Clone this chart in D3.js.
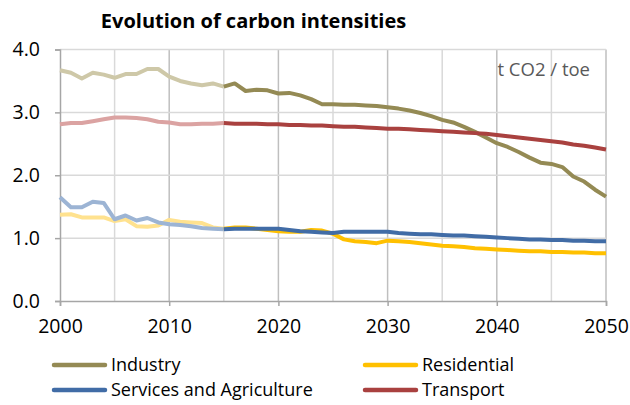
<!DOCTYPE html>
<html><head><meta charset="utf-8">
<script src="https://cdn.jsdelivr.net/npm/d3@7"></script>
<style>
html,body{margin:0;padding:0;background:#fff;}
svg text{font-family:"Open Sans",sans-serif;}
</style></head>
<body><svg id="c" width="630" height="405"></svg>
<script>
const histYears = d3.range(2000, 2016);
const projYears = d3.range(2015, 2051);
const industryHist = [3.67,3.63,3.54,3.63,3.60,3.55,3.61,3.61,3.69,3.69,3.57,3.50,3.46,3.43,3.46,3.41];
const residentialHist = [1.37,1.38,1.33,1.33,1.33,1.27,1.30,1.19,1.18,1.20,1.29,1.26,1.25,1.24,1.17,1.15];
const servicesHist = [1.65,1.49,1.49,1.58,1.56,1.30,1.36,1.28,1.32,1.25,1.22,1.21,1.19,1.16,1.15,1.14];
const transportHist = [2.81,2.83,2.83,2.86,2.89,2.92,2.92,2.91,2.89,2.85,2.84,2.81,2.81,2.82,2.82,2.83];
const industryProj = [3.41,3.46,3.34,3.36,3.35,3.30,3.31,3.27,3.21,3.13,3.13,3.12,3.12,3.11,3.10,3.08,3.06,3.03,2.99,2.94,2.88,2.84,2.77,2.69,2.60,2.51,2.45,2.37,2.28,2.20,2.18,2.13,1.98,1.90,1.77,1.66];
const residentialProj = [1.15,1.17,1.17,1.15,1.13,1.11,1.10,1.10,1.13,1.12,1.07,0.98,0.95,0.94,0.92,0.96,0.95,0.94,0.92,0.90,0.88,0.87,0.86,0.84,0.83,0.82,0.81,0.80,0.79,0.79,0.78,0.78,0.77,0.77,0.76,0.76];
const servicesProj = [1.14,1.15,1.15,1.15,1.15,1.15,1.13,1.11,1.10,1.09,1.08,1.10,1.10,1.10,1.10,1.10,1.08,1.07,1.06,1.06,1.05,1.04,1.04,1.03,1.02,1.01,1.00,0.99,0.98,0.98,0.97,0.97,0.96,0.96,0.95,0.95];
const transportProj = [2.83,2.82,2.82,2.82,2.81,2.81,2.80,2.80,2.79,2.79,2.78,2.77,2.77,2.76,2.75,2.74,2.74,2.73,2.72,2.71,2.70,2.69,2.68,2.67,2.66,2.64,2.62,2.60,2.58,2.56,2.54,2.52,2.49,2.47,2.44,2.41];
const seriesNames = ["Industry","Residential","Services and Agriculture","Transport"];
const xTicks = [2000,2010,2020,2030,2040,2050];
const yTicks = [0,1,2,3,4];
const title = "Evolution of carbon intensities";
const unitLabel = "t CO2 / toe";

const darkColors = ["#948A54","#FFC000","#416CA6","#A9413F"];
const lightColors = ["#CEC8A8","#FFE28F","#9CB4D4","#DBA3A2"];
const hist = [industryHist,residentialHist,servicesHist,transportHist];
const proj = [industryProj,residentialProj,servicesProj,transportProj];

const svg = d3.select("#c");
const x = d3.scaleLinear().domain([2000,2050]).range([60,606]);
const y = d3.scaleLinear().domain([0,4]).range([301,49.5]);

// grid
const g = svg.append("g");
g.selectAll(".vg").data(d3.range(2005,2050,10)).join("line")
  .attr("x1",d=>x(d)).attr("x2",d=>x(d)).attr("y1",y(4)).attr("y2",y(0))
  .attr("stroke","#D9D9D9").attr("stroke-width",1.5);
g.selectAll(".vg2").data([2010,2020,2030,2040,2050]).join("line")
  .attr("x1",d=>x(d)).attr("x2",d=>x(d)).attr("y1",y(4)).attr("y2",y(0))
  .attr("stroke","#BFBFBF").attr("stroke-width",1.5);
g.selectAll(".hg").data([1,2,3,4]).join("line")
  .attr("x1",x(2000)).attr("x2",x(2050)).attr("y1",d=>y(d)).attr("y2",d=>y(d))
  .attr("stroke","#D9D9D9").attr("stroke-width",1.5);

// axes
const xAxis = svg.append("g").attr("transform",`translate(0,${y(0)})`)
  .call(d3.axisBottom(x).tickValues(xTicks).tickFormat(d3.format("d")).tickSize(5).tickPadding(13));
const yAxis = svg.append("g").attr("transform",`translate(${x(2000)},0)`)
  .call(d3.axisLeft(y).tickValues(yTicks).tickFormat(d3.format(".1f")).tickSize(5).tickPadding(15));
[xAxis,yAxis].forEach(a=>{
  a.select(".domain").attr("stroke","#A6A6A6").attr("stroke-width",1.5);
  a.selectAll(".tick line").attr("stroke","#A6A6A6").attr("stroke-width",1.5);
  a.selectAll("text").attr("fill","#000").style("font-size","19.5px").style("font-family","Open Sans");
});

const line = (years)=>d3.line().x((d,i)=>x(years[i])).y(d=>y(d));
const lg = svg.append("g");
hist.forEach((s,i)=>{
  lg.append("path").attr("d",line(histYears)(s)).attr("fill","none")
    .attr("stroke",lightColors[i]).attr("stroke-width",4).attr("stroke-linejoin","round");
});
proj.forEach((s,i)=>{
  lg.append("path").attr("d",line(projYears)(s)).attr("fill","none")
    .attr("stroke",darkColors[i]).attr("stroke-width",4).attr("stroke-linejoin","round");
});

svg.append("text").attr("x",253.5).attr("y",27.5).attr("text-anchor","middle")
  .style("font-size","20px").style("font-weight","bold").text(title);
svg.append("text").attr("x",590).attr("y",76).attr("text-anchor","end")
  .attr("fill","#595959").style("font-size","18.5px").text(unitLabel);

// legend
const legPos = [[52,365],[363,365],[52,390],[363,390]];
seriesNames.forEach((n,i)=>{
  const [lx,ly] = legPos[i];
  svg.append("line").attr("x1",lx+2).attr("x2",lx+53).attr("y1",ly).attr("y2",ly)
    .attr("stroke",darkColors[i]).attr("stroke-width",4.5).attr("stroke-linecap","round");
  svg.append("text").attr("x",lx+59).attr("y",ly).attr("dy","0.35em")
    .style("font-size","18px").text(n);
});
</script></body></html>
